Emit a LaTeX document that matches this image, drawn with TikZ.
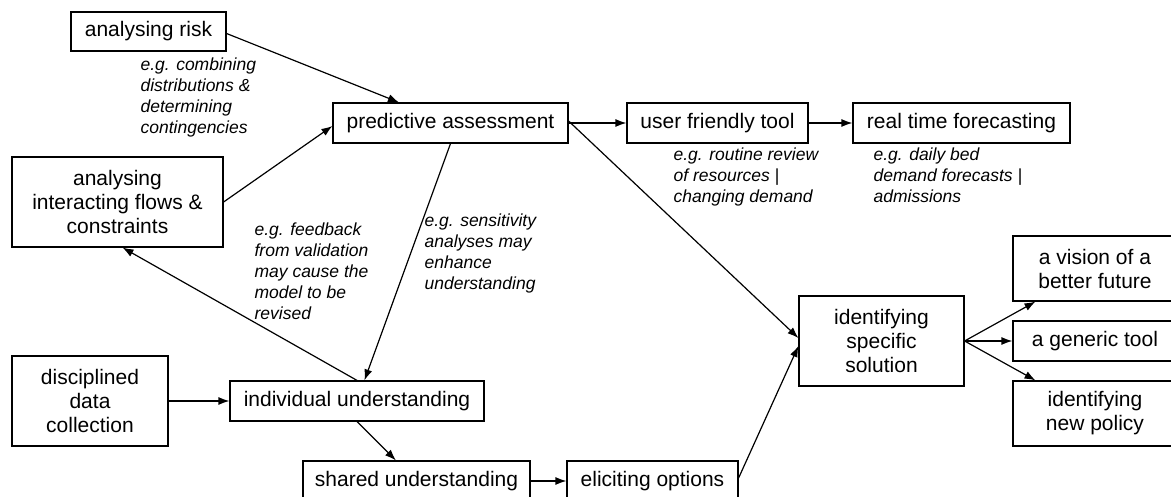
\documentclass[tikz,border=0pt]{standalone}
\usepackage{fontspec}
\setmainfont{Liberation Sans}
\usetikzlibrary{arrows.meta}
\begin{document}
\begin{tikzpicture}[x=1pt,y=-1pt,line width=1.2pt,>={Latex[length=11pt,width=8pt]},
		box/.style={draw,align=center,inner sep=0pt,font=\fontsize{21}{24}\selectfont},
		note/.style={anchor=north west,align=left,inner sep=0pt,font=\fontsize{17.5}{21}\selectfont\itshape}]
		\useasboundingbox (0,0) rectangle (1171,497);
		\clip (0,0) rectangle (1171,497);
		% left and top row
		\node (Ar) at (148.5,31.5) [box,minimum width=155pt,minimum height=39pt] {analysing risk};
		\node (Af) at (117.5,202) [box,minimum width=211pt,minimum height=90pt] {analysing\\ interacting flows \&\\ constraints};
		\node (Pa) at (450.5,123) [box,minimum width=235pt,minimum height=40pt] {predictive assessment}
			edge [<-] ([yshift=-2pt]Ar.east);
		\draw[->] (Af.east) -- ([yshift=-3pt]Pa.west);
		\node (Uf) at (717.5,123) [box,minimum width=181pt,minimum height=40pt] {user friendly tool} edge [<-] (Pa);
		\node (Rt) at (961.5,123) [box,minimum width=217pt,minimum height=40pt] {real time forecasting} edge [<-] (Uf);
		% lower part
		\node (Dd) at (90,401) [box,minimum width=156pt,minimum height=90pt] {disciplined\\ data\\ collection};
		\node (Iu) at (357,401) [box,minimum width=254pt,minimum height=40pt] {individual understanding}
			edge [<-] (Dd) edge [<-] (Pa.south);
		\draw[->] (Iu.north) -- ([xshift=5pt]Af.south);
		\node (Su) at (416.5,481) [box,minimum width=227pt,minimum height=40pt] {shared understanding} edge [<-] (Iu.south);
		\node (Eo) at (652.5,481) [box,minimum width=171pt,minimum height=40pt] {eliciting options} edge [<-] (Su);
		% outcomes
		\node (Is) at (881.5,341) [box,minimum width=165pt,minimum height=90pt] {identifying\\ specific\\ solution};
		\draw[->] ([yshift=2pt]Pa.east) -- ([yshift=3pt]Is.west);
		\draw[->] ([yshift=3pt]Eo.east) -- ([yshift=-5pt]Is.west);
		\node (Vi) at (1095,268.5) [box,minimum width=164pt,minimum height=65pt] {a vision of a\\ better future} edge [<-] (Is.east);
		\node (Gt) at (1095,341) [box,minimum width=164pt,minimum height=40pt] {a generic tool} edge [<-] (Is.east);
		\node (Np) at (1095,413.5) [box,minimum width=164pt,minimum height=65pt] {identifying\\ new policy} edge [<-] (Is.east);
		% examples
		\node (Lc) at (140,57.5) [note] {e.g. combining\\ distributions \&\\ determining\\ contingencies};
		\node (Lf) at (254,222.5) [note] {e.g. feedback\\ from validation\\ may cause the\\ model to be\\ revised};
		\node (Ls) at (424,213.5) [note] {e.g. sensitivity\\ analyses may\\ enhance\\ understanding};
		\node (Lr) at (673,147.5) [note] {e.g. routine review\\ of resources |\\ changing demand};
		\node (Ld) at (873,147.5) [note] {e.g. daily bed\\ demand forecasts |\\ admissions};
	\end{tikzpicture}
\end{document}
